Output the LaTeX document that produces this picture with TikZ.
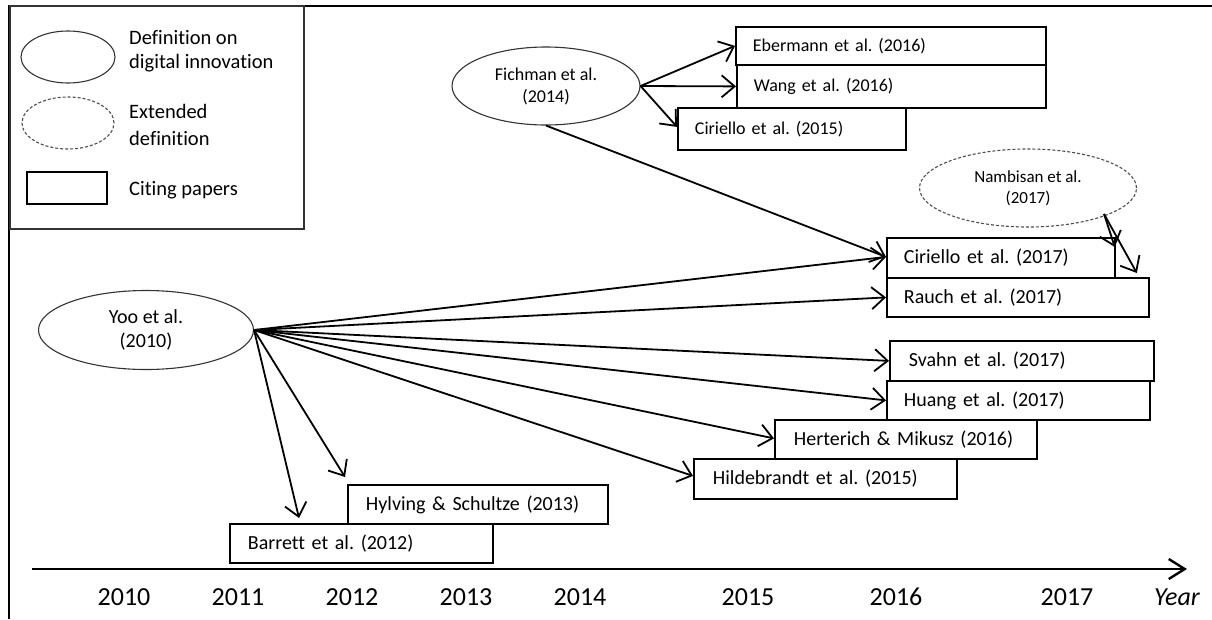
\documentclass[tikz,border=0pt]{standalone}
\usepackage{fontspec}
\setmainfont{Carlito}[Ligatures={NoCommon}]
\frenchspacing
\usetikzlibrary{shapes.geometric,arrows.meta,calc}
\begin{document}
\begin{tikzpicture}[x=1pt,y=-1pt,
  fA/.style={font=\fontsize{18}{22}\selectfont},
  fB/.style={font=\fontsize{20}{24}\selectfont},
  pbox/.style={draw=black,line width=1.8pt,fill=white,anchor=north west,inner ysep=0pt,inner xsep=17pt,align=left},
  defell/.style={draw=black!80,line width=1.1pt,ellipse,inner sep=0pt,align=center},
  extell/.style={defell,dash pattern=on 3pt off 2pt,draw=black!70},
  arr/.style={-{Straight Barb[length=13pt,width=22pt]},line width=1.8pt},
  yr/.style={font=\fontsize{26}{30}\selectfont,anchor=center}
]
\useasboundingbox (0,0) rectangle (1212,619);
% frame
\draw[line width=2.6pt] (9,619) -- (9,6) -- (1212,6);
% legend
\draw[line width=1.1pt,draw=black!80] (10,6) rectangle (304,229);
\node[defell,minimum width=94pt,minimum height=52pt] (legdef) at (68,57) {};
\node[extell,minimum width=92pt,minimum height=52pt] (legext) at (68,123) {};
\node[draw=black,line width=1.8pt,minimum width=80pt,minimum height=32pt,inner sep=0pt] (legbox) at (67,188) {};
\node[font=\fontsize{20.5}{24}\selectfont,anchor=west,align=left,inner sep=0pt] (legdeft) at (129,51) {Definition on\\digital innovation};
\node[font=\fontsize{20.5}{24}\selectfont,anchor=west,align=left,inner sep=0pt] (legextt) at (129,125) {Extended\\[3pt]definition};
\node[font=\fontsize{20.5}{24}\selectfont,anchor=west,inner sep=0pt] (legboxt) at (129,190) {Citing papers};

% definition ellipses
\node[defell,fA,minimum width=188pt,minimum height=78pt] (fich) at (546,86) {Fichman et al.\\(2014)};
\node[defell,fB,minimum width=215pt,minimum height=79pt] (yoo) at (146,330) {Yoo et al.\\(2010)};
\node[extell,font=\fontsize{17}{21}\selectfont,minimum width=217pt,minimum height=78pt] (namb) at (1028,188) {Nambisan et al.\\(2017)};

% citing papers
\node[pbox,fA,text width=276pt,minimum height=38pt] (eber) at (735,26) {Ebermann et al. (2016)};
\node[pbox,fA,text width=275pt,minimum height=43pt] (wang) at (736,64) {Wang et al. (2016)};
\node[pbox,fA,text width=194pt,minimum height=42pt] (cir15) at (677,107) {Ciriello et al. (2015)};
\node[pbox,fB,text width=194pt,minimum height=40pt] (cir17) at (886,237) {Ciriello et al. (2017)};
\node[pbox,fB,text width=228pt,minimum height=39pt] (rauch) at (886,277) {Rauch et al. (2017)};
\node[pbox,fB,inner xsep=19pt,text width=226pt,minimum height=40pt] (svahn) at (889,340) {Svahn et al. (2017)};
\node[pbox,fB,text width=229pt,minimum height=39pt] (huang) at (886,380) {Huang et al. (2017)};
\node[pbox,fB,inner xsep=19pt,text width=224pt,minimum height=39pt] (hert) at (774,419) {Herterich \& Mikusz (2016)};
\node[pbox,fB,inner xsep=19pt,text width=225pt,minimum height=40pt] (hild) at (693,458) {Hildebrandt et al. (2015)};
\node[pbox,fB,inner xsep=18pt,text width=224pt,minimum height=39pt] (hyl) at (347,484) {Hylving \& Schultze (2013)};
\node[pbox,fB,inner xsep=18pt,text width=227pt,minimum height=39pt] (barr) at (229,523) {Barrett et al. (2012)};

% arrows from Fichman
\draw[arr] (fich.east) -- (eber.west);
\draw[arr] (fich.east) -- (wang.west);
\draw[arr] (fich.east) -- ($(cir15.west)+(0,-2)$);
\draw[arr] (fich.south) -- ($(cir17.west)+(0,-1)$);
% arrows from Yoo
\draw[arr] (yoo.east) -- ($(cir17.west)+(0,-1)$);
\draw[arr] (yoo.east) -- (rauch.west);
\draw[arr] (yoo.east) -- (svahn.west);
\draw[arr] (yoo.east) -- (huang.west);
\draw[arr] (yoo.east) -- ($(hert.west)+(0,-1)$);
\draw[arr] (yoo.east) -- ($(hild.west)+(0,-3)$);
\draw[arr] (yoo.east) -- ($(hyl.north west)+(-2,-7)$);
\draw[arr] (yoo.east) -- ($(barr.north west)+(70,-5)$);
% arrows from Nambisan
\coordinate (nst) at (1104,214);
\draw[arr] (nst) -- ($(cir17.north east)+(-1,10)$);
\draw[arr] (nst) -- ($(rauch.north east)+(-13,-4)$);

% time axis
\coordinate (ax0) at (32,569);
\coordinate (ax1) at (1187,569);
\draw[line width=2.4pt,-{Straight Barb[length=16pt,width=20pt]}] (ax0) -- (ax1);
\node[yr] (y10) at (124,597) {2010};
\node[yr] (y11) at (238,597) {2011};
\node[yr] (y12) at (352,597) {2012};
\node[yr] (y13) at (466,597) {2013};
\node[yr] (y14) at (580,597) {2014};
\node[yr] (y15) at (748,597) {2015};
\node[yr] (y16) at (896,597) {2016};
\node[yr] (y17) at (1067,597) {2017};
\node[yr,font=\fontsize{26}{30}\selectfont\itshape] (yl) at (1177,597) {Year};
\end{tikzpicture}
\end{document}
